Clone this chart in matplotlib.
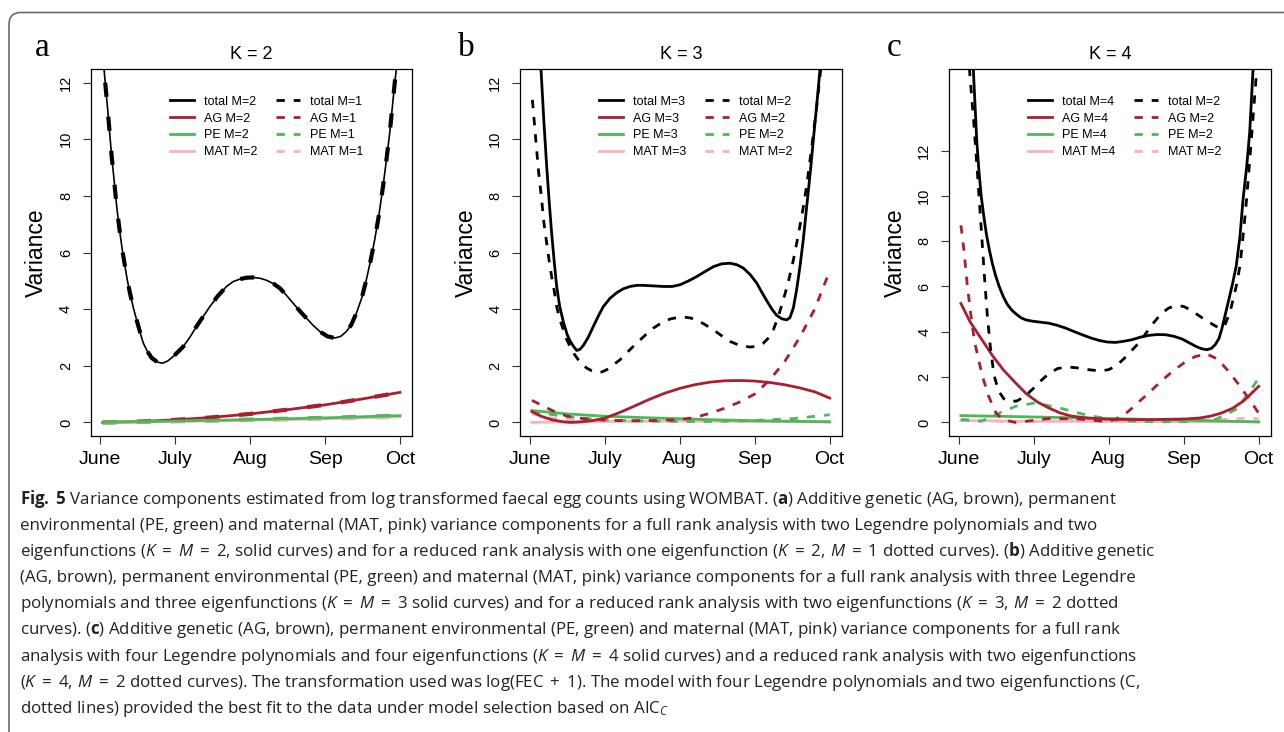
import matplotlib
matplotlib.use("Agg")
import matplotlib.pyplot as plt
from matplotlib import font_manager
from matplotlib.patches import FancyBboxPatch
from matplotlib.transforms import IdentityTransform
from matplotlib.lines import Line2D

# ---------------- data (x = months after 1 June; 0=June ... 4=Oct) ----------------
month_pos = [0, 1, 2, 3, 4]
month_labels = ["June", "July", "Aug", "Sep", "Oct"]
yticks_all = [0, 2, 4, 6, 8, 10, 12]

# Panel a (K = 2)
a_total_x = [0.03, 0.049, 0.075, 0.098, 0.125, 0.151, 0.18, 0.204, 0.23, 0.262, 0.295, 0.329, 0.36,
             0.396, 0.44, 0.484, 0.53, 0.573, 0.63, 0.684, 0.76, 0.831, 0.90, 0.973, 1.04, 1.107,
             1.2, 1.284, 1.37, 1.462, 1.57, 1.684, 1.77, 1.862, 1.95, 2.04, 2.13, 2.218, 2.31,
             2.396, 2.48, 2.573, 2.66, 2.751, 2.84, 2.929, 3.03, 3.129, 3.21, 3.284, 3.35, 3.418,
             3.49, 3.551, 3.61, 3.662, 3.72, 3.773, 3.82, 3.862, 3.9, 3.929, 3.951, 4.0]
a_total_m2 = [13.2, 12.47, 11.7, 11.04, 10.2, 9.39, 8.65, 7.98, 7.35, 6.68, 6.05, 5.51, 5.02,
              4.56, 4.05, 3.62, 3.18, 2.8, 2.5, 2.28, 2.13, 2.09, 2.17, 2.33, 2.5, 2.68,
              3.03, 3.39, 3.73, 4.09, 4.47, 4.8, 4.97, 5.06, 5.11, 5.12, 5.09, 5.02, 4.9,
              4.74, 4.5, 4.21, 3.94, 3.68, 3.43, 3.21, 3.04, 2.98, 3.04, 3.21, 3.45, 3.86,
              4.4, 5.04, 5.75, 6.45, 7.35, 8.33, 9.3, 10.21, 11.2, 11.98, 12.47, 13.9]
a_total_m1 = [13.2, 12.47, 11.7, 11.04, 10.2, 9.39, 8.65, 7.98, 7.35, 6.68, 6.05, 5.51, 5.02,
              4.56, 4.05, 3.62, 3.18, 2.8, 2.5, 2.28, 2.13, 2.09, 2.17, 2.33, 2.5, 2.68,
              3.03, 3.39, 3.73, 4.09, 4.47, 4.8, 4.97, 5.06, 5.11, 5.12, 5.09, 5.02, 4.9,
              4.74, 4.5, 4.21, 3.94, 3.68, 3.43, 3.21, 3.04, 2.98, 3.04, 3.21, 3.45, 3.86,
              4.4, 5.04, 5.75, 6.45, 7.35, 8.33, 9.3, 10.21, 11.2, 11.98, 12.47, 13.9]
a_comp_x = [0.03, 0.5, 1.0, 1.5, 2.0, 2.5, 3.0, 3.5, 4.0]
a_ag_m2 = [0.0, 0.03, 0.09, 0.18, 0.30, 0.45, 0.62, 0.83, 1.06]
a_ag_m1 = [0.0, 0.03, 0.09, 0.18, 0.30, 0.45, 0.62, 0.83, 1.06]
a_pe_m2 = [0.0, 0.02, 0.05, 0.07, 0.10, 0.13, 0.16, 0.20, 0.24]
a_pe_m1 = [0.0, 0.02, 0.05, 0.07, 0.10, 0.13, 0.16, 0.20, 0.24]
a_mat_m2 = [0.0, 0.015, 0.035, 0.055, 0.08, 0.10, 0.13, 0.16, 0.20]
a_mat_m1 = [0.0, 0.015, 0.035, 0.055, 0.08, 0.10, 0.13, 0.16, 0.20]

# Panel b (K = 3)
b_total_m3_x = [0.03, 0.09, 0.151, 0.19, 0.227, 0.26, 0.293, 0.33, 0.36, 0.40, 0.449, 0.50, 0.538,
                0.58, 0.627, 0.67, 0.716, 0.78, 0.849, 0.92, 0.982, 1.07, 1.16, 1.25, 1.338, 1.43,
                1.516, 1.65, 1.782, 1.90, 2.004, 2.12, 2.227, 2.34, 2.449, 2.56, 2.671, 2.76,
                2.849, 2.94, 3.027, 3.09, 3.16, 3.23, 3.293, 3.36, 3.427, 3.47, 3.516, 3.56,
                3.604, 3.65, 3.693, 3.74, 3.782, 3.83, 3.871, 3.93, 4.0]
b_total_m3 = [21, 16.5, 12.47, 10.6, 9.04, 7.8, 6.68, 5.6, 4.8, 4.1, 3.55, 3.1, 2.88,
              2.7, 2.54, 2.58, 2.72, 3.0, 3.39, 3.78, 4.09, 4.38, 4.58, 4.72, 4.8, 4.84,
              4.84, 4.82, 4.8, 4.8, 4.86, 5.0, 5.15, 5.33, 5.5, 5.6, 5.62, 5.57,
              5.45, 5.22, 4.92, 4.62, 4.3, 4.0, 3.78, 3.66, 3.62, 3.7, 4.05, 4.7,
              5.51, 6.5, 7.62, 8.8, 9.98, 11.3, 12.47, 15.0, 19.0]
b_total_m2_x = [0.036, 0.065, 0.093, 0.125, 0.16, 0.19, 0.227, 0.26, 0.293, 0.33, 0.36, 0.40,
                0.449, 0.49, 0.538, 0.59, 0.649, 0.70, 0.76, 0.83, 0.893, 0.96, 1.027, 1.11,
                1.204, 1.31, 1.427, 1.54, 1.649, 1.76, 1.871, 1.96, 2.049, 2.14, 2.227, 2.34,
                2.449, 2.56, 2.671, 2.8, 2.938, 3.03, 3.116, 3.19, 3.249, 3.31, 3.382, 3.45,
                3.516, 3.58, 3.649, 3.695, 3.738, 3.78, 3.827, 3.88, 3.94, 4.0]
b_total_m2 = [11.39, 10.5, 9.62, 8.7, 7.86, 7.05, 6.33, 5.7, 5.15, 4.6, 4.09, 3.65,
              3.27, 2.95, 2.68, 2.43, 2.21, 2.05, 1.92, 1.82, 1.76, 1.78, 1.86, 2.02,
              2.21, 2.5, 2.8, 3.08, 3.33, 3.52, 3.65, 3.7, 3.72, 3.69, 3.62, 3.45,
              3.27, 3.06, 2.86, 2.72, 2.66, 2.69, 2.8, 3.0, 3.27, 3.7, 4.33, 4.98,
              5.74, 6.6, 7.62, 8.4, 9.27, 10.15, 11.15, 12.47, 14.2, 16.0]
b_ag_m3_x = [0.03, 0.15, 0.3, 0.45, 0.55, 0.7, 0.85, 1.0, 1.2, 1.4, 1.6, 1.8, 2.0, 2.2, 2.4,
             2.6, 2.8, 3.0, 3.2, 3.4, 3.6, 3.8, 4.0]
b_ag_m3 = [0.38, 0.22, 0.09, 0.02, 0.0, 0.02, 0.07, 0.15, 0.35, 0.58, 0.82, 1.03, 1.2, 1.33,
           1.42, 1.47, 1.48, 1.46, 1.41, 1.33, 1.22, 1.08, 0.86]
b_ag_m2_x = [0.03, 0.2, 0.35, 0.5, 0.75, 1.0, 1.25, 1.5, 1.75, 2.0, 2.2, 2.4, 2.6, 2.8, 3.0,
             3.2, 3.4, 3.6, 3.8, 4.0]
b_ag_m2 = [0.78, 0.55, 0.36, 0.22, 0.12, 0.08, 0.06, 0.06, 0.07, 0.1, 0.17, 0.32, 0.5, 0.72,
           1.0, 1.5, 2.15, 3.0, 4.0, 5.35]
b_comp_x = [0.03, 0.5, 1.0, 1.5, 2.0, 2.5, 3.0, 3.5, 4.0]
b_pe_m3 = [0.42, 0.30, 0.22, 0.17, 0.13, 0.09, 0.06, 0.04, 0.02]
b_pe_m2 = [0.38, 0.20, 0.09, 0.05, 0.03, 0.04, 0.07, 0.13, 0.27]
b_mat_m3_x = [0.03, 1.0, 2.0, 3.0, 4.0]
b_mat_m3 = [0.0, 0.03, 0.05, 0.03, 0.02]
b_mat_m2_x = [0.03, 0.3, 0.6, 1.0, 2.0, 3.0, 4.0]
b_mat_m2 = [0.30, 0.15, 0.08, 0.06, 0.05, 0.03, 0.02]

# Panel c (K = 4)
c_total_m4_x = [0.03, 0.12, 0.195, 0.24, 0.27, 0.3, 0.335, 0.37, 0.41, 0.45, 0.495, 0.54, 0.595,
                0.65, 0.71, 0.76, 0.83, 0.9, 1.0, 1.1, 1.2, 1.31, 1.42, 1.53, 1.646, 1.76, 1.87,
                1.98, 2.09, 2.2, 2.31, 2.42, 2.53, 2.65, 2.76, 2.87, 2.98, 3.07, 3.16, 3.24,
                3.31, 3.37, 3.42, 3.47, 3.51, 3.55, 3.6, 3.65, 3.7, 3.75, 3.79, 3.84, 3.88,
                3.925, 4.0]
c_total_m4 = [40, 22, 15.6, 12.5, 11.1, 10.0, 9.1, 8.3, 7.6, 7.0, 6.45, 6.0, 5.55,
              5.2, 4.95, 4.8, 4.62, 4.52, 4.46, 4.42, 4.38, 4.29, 4.17, 4.02, 3.87, 3.73, 3.62,
              3.55, 3.53, 3.58, 3.65, 3.76, 3.84, 3.88, 3.87, 3.8, 3.68, 3.52, 3.36, 3.25,
              3.21, 3.27, 3.43, 3.7, 4.15, 4.7, 5.4, 6.1, 6.9, 8.2, 9.8, 11.3, 12.8,
              15.6, 22]
c_total_m2_x = [0.03, 0.1, 0.15, 0.2, 0.25, 0.3, 0.34, 0.38, 0.42, 0.47, 0.53, 0.6, 0.68, 0.78,
                0.88, 0.98, 1.1, 1.2, 1.32, 1.45, 1.6, 1.75, 1.9, 2.0, 2.1, 2.2, 2.3, 2.4, 2.5,
                2.6, 2.7, 2.8, 2.9, 3.0, 3.1, 3.2, 3.3, 3.4, 3.48, 3.55, 3.62, 3.7, 3.75, 3.8,
                3.84, 3.9, 3.97, 4.0]
c_total_m2 = [24, 18, 15.3, 13.3, 11.0, 8.6, 6.6, 4.8, 3.4, 2.1, 1.4, 1.05, 0.92, 0.95,
              1.15, 1.45, 1.85, 2.15, 2.38, 2.45, 2.4, 2.32, 2.27, 2.33, 2.5, 2.8, 3.15, 3.5, 3.95,
              4.4, 4.8, 5.05, 5.15, 5.12, 4.95, 4.72, 4.5, 4.3, 4.15, 4.3, 4.9, 6.0, 6.9, 8.5,
              9.9, 12.4, 15.4, 16.6]
c_ag_m4_x = [0.03, 0.15, 0.3, 0.45, 0.6, 0.76, 0.9, 1.05, 1.2, 1.35, 1.5, 1.73, 2.0, 2.5, 3.0,
             3.2, 3.35, 3.5, 3.65, 3.8, 4.0]
c_ag_m4 = [5.25, 4.45, 3.7, 2.95, 2.3, 1.74, 1.27, 0.9, 0.64, 0.42, 0.28, 0.19, 0.14, 0.12,
           0.15, 0.19, 0.27, 0.41, 0.62, 0.95, 1.59]
c_ag_m2_x = [0.03, 0.07, 0.11, 0.16, 0.21, 0.27, 0.32, 0.4, 0.5, 0.6, 0.75, 0.9, 1.2, 1.6, 1.9,
             2.0, 2.1, 2.25, 2.4, 2.55, 2.7, 2.85, 3.0, 3.15, 3.3, 3.45, 3.6, 3.75, 3.9, 4.0]
c_ag_m2 = [8.7, 7.6, 6.2, 4.8, 3.6, 2.7, 2.0, 1.15, 0.4, 0.12, 0.0, 0.05, 0.17, 0.15, 0.06,
           0.05, 0.15, 0.45, 0.9, 1.35, 1.82, 2.25, 2.62, 2.9, 3.03, 2.8, 2.25, 1.6, 0.9, 0.4]
c_pe_m4_x = [0.03, 1.0, 2.0, 3.0, 4.0]
c_pe_m4 = [0.30, 0.24, 0.17, 0.10, 0.02]
c_pe_m2_x = [0.03, 0.3, 0.54, 0.76, 1.02, 1.34, 1.73, 2.18, 2.6, 2.98, 3.42, 3.69, 3.87, 4.0]
c_pe_m2 = [0.12, 0.05, 0.41, 0.71, 0.86, 0.64, 0.30, 0.07, 0.03, 0.03, 0.12, 0.56, 1.30, 1.96]
c_mat_m4_x = [0.03, 1.0, 2.0, 3.0, 4.0]
c_mat_m4 = [0.08, 0.05, 0.04, 0.03, 0.03]
c_mat_m2_x = [0.03, 0.5, 1.0, 1.5, 2.0, 2.5, 3.0, 3.5, 3.9, 4.0]
c_mat_m2 = [0.15, 0.05, 0.03, 0.10, 0.10, 0.05, 0.05, 0.12, 0.20, 0.15]

EQ = r"\;=\;"
caption_lines = [
    r"$\mathbf{Fig.\;5}$ Variance components estimated from log transformed faecal egg counts using WOMBAT. ($\mathbf{a}$) Additive genetic (AG, brown), permanent",
    r"environmental (PE, green) and maternal (MAT, pink) variance components for a full rank analysis with two Legendre polynomials and two",
    r"eigenfunctions ($K" + EQ + "M" + EQ + r"2$, solid curves) and for a reduced rank analysis with one eigenfunction ($K" + EQ + r"2,\,M" + EQ + r"1$ dotted curves). ($\mathbf{b}$) Additive genetic",
    r"(AG, brown), permanent environmental (PE, green) and maternal (MAT, pink) variance components for a full rank analysis with three Legendre",
    r"polynomials and three eigenfunctions ($K" + EQ + "M" + EQ + r"3$ solid curves) and for a reduced rank analysis with two eigenfunctions ($K" + EQ + r"3,\,M" + EQ + r"2$ dotted",
    r"curves). ($\mathbf{c}$) Additive genetic (AG, brown), permanent environmental (PE, green) and maternal (MAT, pink) variance components for a full rank",
    r"analysis with four Legendre polynomials and four eigenfunctions ($K" + EQ + "M" + EQ + r"4$ solid curves) and a reduced rank analysis with two eigenfunctions",
    r"($K" + EQ + r"4,\,M" + EQ + r"2$ dotted curves). The transformation used was $\mathrm{log}(\mathrm{FEC}\;+\;1)$. The model with four Legendre polynomials and two eigenfunctions (C,",
    r"dotted lines) provided the best fit to the data under model selection based on AIC$_{C}$",
]

# ---------------- style ----------------
C_TOT = "#000000"
C_AG = "#A8202F"
C_PE = "#4DB85A"
C_MAT = "#F5B3BD"

W, H, DPI = 1284, 732, 100
available = {f.name for f in font_manager.fontManager.ttflist}
cap_family = "Open Sans"
for cand in ["Liberation Sans Narrow", "Open Sans", "Roboto", "DejaVu Sans"]:
    if cand in available:
        cap_family = cand
        break
ax_family = "Liberation Sans" if "Liberation Sans" in available else "DejaVu Sans"
serif_family = "Liberation Serif" if "Liberation Serif" in available else "DejaVu Serif"

plt.rcParams["font.family"] = [ax_family, "DejaVu Sans"]
plt.rcParams["mathtext.fontset"] = "custom"
plt.rcParams["mathtext.rm"] = cap_family
plt.rcParams["mathtext.it"] = cap_family + ":italic"
plt.rcParams["mathtext.bf"] = cap_family + ":bold"

fig = plt.figure(figsize=(W / DPI, H / DPI), dpi=DPI)


def rect(x0, y0, x1, y1):
    return [x0 / W, 1 - y1 / H, (x1 - x0) / W, (y1 - y0) / H]


# outer rounded frame (cropped on right/bottom)
frame = FancyBboxPatch((9, -60), 1500, (H - 12.5) + 60,
                       boxstyle="round,pad=0,rounding_size=12",
                       transform=IdentityTransform(), facecolor="none",
                       edgecolor="#6a6a6a", linewidth=1.2)
fig.add_artist(frame)

SOLID_A = dict(lw=1.2, solid_capstyle="butt")
DASH_A = dict(lw=3.0, dashes=(3.4, 4.8))
SOLID = dict(lw=2.0)
DASH = dict(lw=2.0, dashes=(3.0, 3.2))


def style_axes(ax, ylim, title):
    ax.set_xlim(-0.125, 4.16)
    ax.set_ylim(*ylim)
    ax.set_xticks(month_pos)
    ax.set_xticklabels(month_labels, fontsize=14)
    ax.set_yticks(yticks_all)
    ax.set_yticklabels([str(v) for v in yticks_all], fontsize=10.5, rotation=90, va="center")
    ax.tick_params(direction="out", length=6, width=0.8, color="#333333")
    ax.tick_params(axis="x", pad=5)
    ax.tick_params(axis="y", pad=7)
    for sp in ax.spines.values():
        sp.set_linewidth(0.9)
    ax.set_title(title, fontsize=13, pad=7)
    ax.set_ylabel("Variance", fontsize=16.5)
    ax.yaxis.set_label_coords(-0.169, 0.5)
    ax.yaxis.label.set_va("center")


def add_legend(ax, labels_solid, labels_dash):
    handles = [Line2D([], [], color=c, **SOLID) for c in (C_TOT, C_AG, C_PE, C_MAT)]
    handles += [Line2D([], [], color=c, **DASH) for c in (C_TOT, C_AG, C_PE, C_MAT)]
    ax.legend(handles, labels_solid + labels_dash, ncol=2, loc="upper left",
              bbox_to_anchor=(0.245, 0.927), frameon=False, fontsize=9,
              handlelength=1.95, handletextpad=0.8, columnspacing=1.45,
              labelspacing=0.38, borderpad=0, borderaxespad=0)


# Panel a
axa = fig.add_axes(rect(91, 69, 412, 436))
axa.plot(a_total_x, a_total_m1, color=C_TOT, **DASH_A)
axa.plot(a_comp_x, a_ag_m1, color=C_AG, **DASH_A)
axa.plot(a_comp_x, a_mat_m1, color=C_MAT, **DASH_A)
axa.plot(a_comp_x, a_pe_m1, color=C_PE, **DASH_A)
axa.plot(a_total_x, a_total_m2, color=C_TOT, **SOLID_A)
axa.plot(a_comp_x, a_ag_m2, color=C_AG, lw=2.0)
axa.plot(a_comp_x, a_mat_m2, color=C_MAT, lw=2.0)
axa.plot(a_comp_x, a_pe_m2, color=C_PE, lw=2.0)
style_axes(axa, (-0.48, 12.48), "K = 2")
add_legend(axa, ["total M=2", "AG M=2", "PE M=2", "MAT M=2"],
           ["total M=1", "AG M=1", "PE M=1", "MAT M=1"])

# Panel b
axb = fig.add_axes(rect(520.3, 69, 841.7, 436))
axb.plot(b_mat_m3_x, b_mat_m3, color=C_MAT, **SOLID)
axb.plot(b_mat_m2_x, b_mat_m2, color=C_MAT, **DASH)
axb.plot(b_comp_x, b_pe_m3, color=C_PE, **SOLID)
axb.plot(b_comp_x, b_pe_m2, color=C_PE, **DASH)
axb.plot(b_ag_m3_x, b_ag_m3, color=C_AG, **SOLID)
axb.plot(b_ag_m2_x, b_ag_m2, color=C_AG, **DASH)
axb.plot(b_total_m3_x, b_total_m3, color=C_TOT, **SOLID)
axb.plot(b_total_m2_x, b_total_m2, color=C_TOT, **DASH)
style_axes(axb, (-0.48, 12.48), "K = 3")
add_legend(axb, ["total M=3", "AG M=3", "PE M=3", "MAT M=3"],
           ["total M=2", "AG M=2", "PE M=2", "MAT M=2"])

# Panel c
axc = fig.add_axes(rect(949.3, 69, 1270.7, 436))
axc.plot(c_mat_m4_x, c_mat_m4, color=C_MAT, **SOLID)
axc.plot(c_mat_m2_x, c_mat_m2, color=C_MAT, **DASH)
axc.plot(c_pe_m4_x, c_pe_m4, color=C_PE, **SOLID)
axc.plot(c_pe_m2_x, c_pe_m2, color=C_PE, **DASH)
axc.plot(c_ag_m4_x, c_ag_m4, color=C_AG, **SOLID)
axc.plot(c_ag_m2_x, c_ag_m2, color=C_AG, **DASH)
axc.plot(c_total_m4_x, c_total_m4, color=C_TOT, **SOLID)
axc.plot(c_total_m2_x, c_total_m2, color=C_TOT, **DASH)
style_axes(axc, (-0.6, 15.6), "K = 4")
add_legend(axc, ["total M=4", "AG M=4", "PE M=4", "MAT M=4"],
           ["total M=2", "AG M=2", "PE M=2", "MAT M=2"])

# panel letters
for lx, letter in [(35, "a"), (458, "b"), (887, "c")]:
    fig.text(lx / W, 1 - 56 / H, letter, family=serif_family, fontsize=24, va="baseline", ha="left")

# caption
cap_texts = []
for i, s in enumerate(caption_lines):
    t = fig.text(20 / W, 1 - (503.5 + 26.2 * i) / H, s, family=cap_family, fontsize=12,
                 va="baseline", ha="left", color="#222222")
    cap_texts.append(t)
fig.canvas.draw()
renderer = fig.canvas.get_renderer()
w3 = cap_texts[2].get_window_extent(renderer).width
fs = 12 * 1132.0 / w3
for t in cap_texts:
    t.set_fontsize(fs)

fig.savefig("out.png", dpi=DPI)
